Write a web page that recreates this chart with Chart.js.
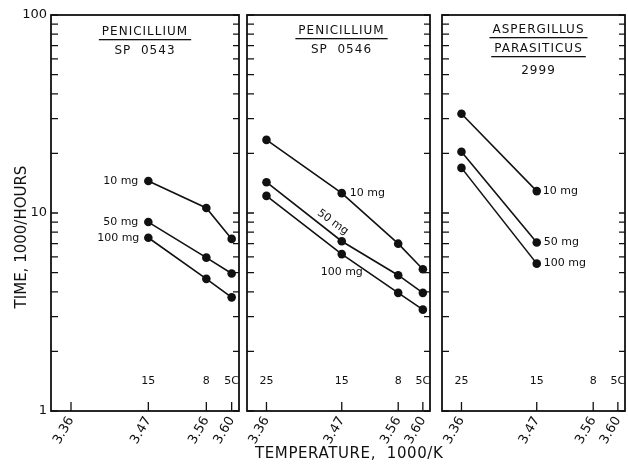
<!DOCTYPE html>
<html>
<head>
<meta charset="utf-8">
<script src="https://cdn.jsdelivr.net/npm/chart.js@4.4.1/dist/chart.umd.min.js"></script>
<style>
  html, body { margin: 0; padding: 0; background: #fff; }
  #wrap { position: relative; width: 628px; height: 465px; overflow: hidden; background: #fff; }
  #wrap canvas { position: absolute; top: 0; }
  #xtitle { position: absolute; left: 255px; top: 444px; font: 15px "DejaVu Sans"; letter-spacing: 0.6px; color: #111; white-space: pre; }
</style>
</head>
<body>
<div id="wrap">
  <canvas id="p1"></canvas>
  <canvas id="p2"></canvas>
  <canvas id="p3"></canvas>
  <div id="xtitle">TEMPERATURE,  1000/K</div>
</div>
<script>
// x positions are 1000/K for 25, 15, 8 and 5 C
const invK = [3.354, 3.470, 3.557, 3.595];
const invKLabels = ['3.36', '3.47', '3.56', '3.60'];
const tempLabels = ['25', '15', '8', '5C'];
const doses = ['10 mg', '50 mg', '100 mg'];

// time, 1000 hours (null = not run)
const sp0543_10 = [null, 14.5, 10.6, 7.4];
const sp0543_50 = [null, 9.0, 5.95, 4.95];
const sp0543_100 = [null, 7.5, 4.65, 3.75];

const sp0546_10 = [23.4, 12.6, 7.0, 5.2];
const sp0546_50 = [14.3, 7.2, 4.85, 3.95];
const sp0546_100 = [12.2, 6.2, 3.95, 3.25];

const asp2999_10 = [31.7, 12.9, null, null];
const asp2999_50 = [20.4, 7.1, null, null];
const asp2999_100 = [16.9, 5.55, null, null];

const ink = '#111';
const font = '"DejaVu Sans", sans-serif';

// frame, inward ticks, titles, temperature marks and dose tags
const panelPlugin = {
    id: 'panel',
    afterDatasetsDraw(chart, args, o) {
        const { ctx, chartArea: a, scales: { x, y } } = chart;
        ctx.save();
        ctx.strokeStyle = ink;
        ctx.fillStyle = ink;
        ctx.lineWidth = 1.8;
        ctx.strokeRect(a.left, a.top, a.right - a.left, a.bottom - a.top);

        ctx.lineWidth = 1.3;
        ctx.beginPath();
        y.ticks.forEach(t => {
            const py = y.getPixelForValue(t.value);
            ctx.moveTo(a.left, py); ctx.lineTo(a.left + 7, py);
            ctx.moveTo(a.right, py); ctx.lineTo(a.right - 6, py);
        });
        x.ticks.forEach(t => {
            const px = x.getPixelForValue(t.value);
            ctx.moveTo(px, a.bottom); ctx.lineTo(px, a.bottom - 9);
        });
        ctx.stroke();

        ctx.textAlign = 'center';
        ctx.textBaseline = 'middle';
        ctx.font = '11px ' + font;
        o.temps.forEach(i => ctx.fillText(tempLabels[i], x.getPixelForValue(invK[i]), a.bottom - 30));

        const cx = (a.left + a.right) / 2 + o.titleDx;
        ctx.font = '12px ' + font;
        ctx.letterSpacing = '1px';
        o.title.forEach(l => {
            ctx.fillText(l.text, cx, a.top + l.dy);
            if (l.under) {
                const w = ctx.measureText(l.text).width;
                ctx.fillRect(cx - w / 2 - 3, a.top + l.dy + 7, w + 6, 1.3);
            }
        });
        ctx.letterSpacing = '0px';

        if (o.yTitle) {
            ctx.save();
            ctx.translate(22, 237);
            ctx.rotate(-Math.PI / 2);
            ctx.font = '15px ' + font;
            ctx.fillText(o.yTitle, 0, 0);
            ctx.restore();
        }

        ctx.font = '11px ' + font;
        o.tags.forEach((d, k) => {
            const el = chart.getDatasetMeta(k).data[d.at];
            ctx.save();
            ctx.translate(el.x + d.dx, el.y + d.dy);
            ctx.rotate((d.rot || 0) * Math.PI / 180);
            ctx.textAlign = d.align;
            ctx.fillText(doses[k], 0, 0);
            ctx.restore();
        });
        ctx.restore();
    }
};

function makePanel(id, left, width, o) {
    const canvas = document.getElementById(id);
    canvas.width = width;
    canvas.height = 465;
    canvas.style.left = left + 'px';
    return new Chart(canvas, {
        type: 'line',
        data: {
            datasets: o.series.map(s => ({
                data: invK.map((v, i) => ({ x: v, y: s[i] })),
                borderColor: ink,
                backgroundColor: ink,
                borderWidth: 1.6,
                pointRadius: 4.3,
                pointHoverRadius: 4.3,
                pointBorderWidth: 0,
                fill: false,
                tension: 0
            }))
        },
        options: {
            responsive: false,
            animation: false,
            events: [],
            layout: { autoPadding: false, padding: { top: 15, left: o.padLeft, right: 4, bottom: 0 } },
            plugins: { legend: { display: false }, tooltip: { enabled: false }, panel: o },
            scales: {
                x: {
                    type: 'linear',
                    min: 3.324,
                    max: 3.606,
                    afterBuildTicks: s => { s.ticks = invK.map(v => ({ value: v })); },
                    afterFit: s => { s.height = 54; s.paddingLeft = 0; s.paddingRight = 0; },
                    grid: { display: false, drawTicks: false },
                    border: { display: false },
                    ticks: {
                        autoSkip: false,
                        minRotation: 60,
                        maxRotation: 60,
                        padding: 3,
                        color: ink,
                        font: { family: font, size: 13 },
                        callback: (v, i) => invKLabels[i]
                    }
                },
                y: {
                    type: 'logarithmic',
                    min: 1,
                    max: 100,
                    afterBuildTicks: s => {
                        const t = [];
                        [1, 10].forEach(d => { for (let m = 1; m < 10; m++) t.push({ value: d * m }); });
                        t.push({ value: 100 });
                        s.ticks = t;
                    },
                    afterFit: s => { s.width = o.showY ? 51 : 0; s.paddingTop = 0; s.paddingBottom = 0; },
                    grid: { display: false, drawTicks: false },
                    border: { display: false },
                    ticks: {
                        display: o.showY,
                        autoSkip: false,
                        padding: 4,
                        color: ink,
                        font: { family: font, size: 13 },
                        callback: v => ([1, 10, 100].includes(v) ? String(v) : '')
                    }
                }
            }
        },
        plugins: [panelPlugin]
    });
}

makePanel('p1', 0, 243, {
    showY: true, padLeft: 0, titleDx: 0,
    yTitle: 'TIME, 1000/HOURS',
    series: [sp0543_10, sp0543_50, sp0543_100],
    temps: [1, 2, 3],
    title: [{ text: 'PENICILLIUM', dy: 17, under: true }, { text: 'SP  0543', dy: 36 }],
    tags: [
        { at: 1, dx: -10, dy: 0, align: 'right' },
        { at: 1, dx: -10, dy: 0, align: 'right' },
        { at: 1, dx: -9, dy: 0, align: 'right' }
    ]
});

makePanel('p2', 243, 191, {
    showY: false, padLeft: 4, titleDx: 3,
    series: [sp0546_10, sp0546_50, sp0546_100],
    temps: [0, 1, 2, 3],
    title: [{ text: 'PENICILLIUM', dy: 16, under: true }, { text: 'SP  0546', dy: 35 }],
    tags: [
        { at: 1, dx: 8, dy: 0, align: 'left' },
        { at: 1, dx: -9, dy: -19, align: 'center', rot: 36 },
        { at: 1, dx: 0, dy: 18, align: 'center' }
    ]
});

makePanel('p3', 438, 191, {
    showY: false, padLeft: 4, titleDx: 5,
    series: [asp2999_10, asp2999_50, asp2999_100],
    temps: [0, 1, 2, 3],
    title: [
        { text: 'ASPERGILLUS', dy: 15, under: true },
        { text: 'PARASITICUS', dy: 34, under: true },
        { text: '2999', dy: 56 }
    ],
    tags: [
        { at: 1, dx: 6, dy: 0, align: 'left' },
        { at: 1, dx: 7, dy: 0, align: 'left' },
        { at: 1, dx: 7, dy: 0, align: 'left' }
    ]
});
</script>
</body>
</html>
